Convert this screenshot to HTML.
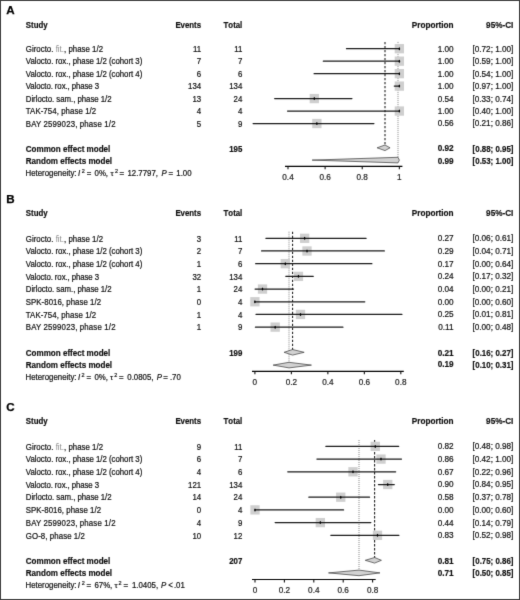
<!DOCTYPE html>
<html><head><meta charset="utf-8"><style>
html,body{margin:0;padding:0;background:#fff;}
#page{position:relative;filter:url(#soft);width:520px;height:600px;overflow:hidden;background:#fff;font-family:"Liberation Sans", sans-serif;}
#page div{position:absolute;white-space:nowrap;-webkit-text-stroke:0.2px currentColor;}
#frame{position:absolute;left:0;top:0;width:518px;height:598px;border:1px solid #3d3d3d;}
sup{font-size:70%;vertical-align:0;position:relative;top:-0.45em;line-height:0;}
svg{position:absolute;left:0;top:0;}
</style></head><body><svg width="0" height="0" style="position:absolute"><filter id="soft" x="0" y="0" width="100%" height="100%" color-interpolation-filters="sRGB"><feColorMatrix type="saturate" values="0"/><feConvolveMatrix order="3" kernelMatrix="0.01000 0.08000 0.01000 0.08000 0.64000 0.08000 0.01000 0.08000 0.01000" divisor="1" edgeMode="duplicate" preserveAlpha="true"/></filter></svg><div id="page">
<svg width="520" height="600" viewBox="0 0 520 600">
<line x1="285.0" y1="166.3" x2="402.4" y2="166.3" stroke="#000" stroke-width="1.2"/>
<line x1="288.00" y1="166.3" x2="288.00" y2="169.30" stroke="#111" stroke-width="1.1"/>
<line x1="325.12" y1="166.3" x2="325.12" y2="169.30" stroke="#111" stroke-width="1.1"/>
<line x1="362.23" y1="166.3" x2="362.23" y2="169.30" stroke="#111" stroke-width="1.1"/>
<line x1="399.35" y1="166.3" x2="399.35" y2="169.30" stroke="#111" stroke-width="1.1"/>
<line x1="398.00" y1="41.9" x2="398.00" y2="160.10" stroke="#888" stroke-width="1" stroke-dasharray="1 1"/>
<line x1="385.00" y1="41.9" x2="385.00" y2="147.80" stroke="#222" stroke-width="1.1" stroke-dasharray="2.4 1.6"/>
<rect x="394.70" y="44.05" width="9.3" height="9.3" fill="#cfcfcf"/>
<line x1="346.47" y1="48.70" x2="399.35" y2="48.70" stroke="#1a1a1a" stroke-width="1.25" stroke-linecap="round"/>
<ellipse cx="399.35" cy="48.70" rx="0.75" ry="1.5" fill="#000"/>
<rect x="394.70" y="56.52" width="9.3" height="9.3" fill="#cfcfcf"/>
<line x1="323.33" y1="61.17" x2="399.35" y2="61.17" stroke="#1a1a1a" stroke-width="1.25" stroke-linecap="round"/>
<ellipse cx="399.35" cy="61.17" rx="0.75" ry="1.5" fill="#000"/>
<rect x="394.70" y="68.99" width="9.3" height="9.3" fill="#cfcfcf"/>
<line x1="314.12" y1="73.64" x2="399.35" y2="73.64" stroke="#1a1a1a" stroke-width="1.25" stroke-linecap="round"/>
<ellipse cx="399.35" cy="73.64" rx="0.75" ry="1.5" fill="#000"/>
<rect x="394.70" y="81.46" width="9.3" height="9.3" fill="#cfcfcf"/>
<line x1="394.31" y1="86.11" x2="399.35" y2="86.11" stroke="#1a1a1a" stroke-width="1.25" stroke-linecap="round"/>
<ellipse cx="399.35" cy="86.11" rx="0.75" ry="1.5" fill="#000"/>
<rect x="309.64" y="93.93" width="9.3" height="9.3" fill="#cfcfcf"/>
<line x1="274.68" y1="98.58" x2="351.93" y2="98.58" stroke="#1a1a1a" stroke-width="1.25" stroke-linecap="round"/>
<ellipse cx="314.29" cy="98.58" rx="0.75" ry="1.5" fill="#000"/>
<rect x="394.70" y="106.40" width="9.3" height="9.3" fill="#cfcfcf"/>
<line x1="287.56" y1="111.05" x2="399.35" y2="111.05" stroke="#1a1a1a" stroke-width="1.25" stroke-linecap="round"/>
<ellipse cx="399.35" cy="111.05" rx="0.75" ry="1.5" fill="#000"/>
<rect x="312.22" y="118.87" width="9.3" height="9.3" fill="#cfcfcf"/>
<line x1="253.11" y1="123.52" x2="373.92" y2="123.52" stroke="#1a1a1a" stroke-width="1.25" stroke-linecap="round"/>
<ellipse cx="316.87" cy="123.52" rx="0.75" ry="1.5" fill="#000"/>
<polygon points="377.08,147.80 385.00,145.00 390.07,147.80 385.00,150.60" fill="#d2d2d2" stroke="#3a3a3a" stroke-width="0.7"/>
<polygon points="312.13,160.10 398.00,157.30 399.35,160.10 398.00,162.90" fill="#d2d2d2" stroke="#3a3a3a" stroke-width="0.7"/>
<line x1="252.0" y1="371.3" x2="403.8" y2="371.3" stroke="#000" stroke-width="1.2"/>
<line x1="254.90" y1="371.3" x2="254.90" y2="374.30" stroke="#111" stroke-width="1.1"/>
<line x1="291.38" y1="371.3" x2="291.38" y2="374.30" stroke="#111" stroke-width="1.1"/>
<line x1="327.86" y1="371.3" x2="327.86" y2="374.30" stroke="#111" stroke-width="1.1"/>
<line x1="364.34" y1="371.3" x2="364.34" y2="374.30" stroke="#111" stroke-width="1.1"/>
<line x1="400.82" y1="371.3" x2="400.82" y2="374.30" stroke="#111" stroke-width="1.1"/>
<line x1="289.00" y1="231.7" x2="289.00" y2="365.10" stroke="#888" stroke-width="1" stroke-dasharray="1 1"/>
<line x1="292.56" y1="231.7" x2="292.56" y2="352.30" stroke="#222" stroke-width="1.1" stroke-dasharray="2.4 1.6"/>
<rect x="300.00" y="233.65" width="9.3" height="9.3" fill="#cfcfcf"/>
<line x1="265.88" y1="238.30" x2="366.12" y2="238.30" stroke="#1a1a1a" stroke-width="1.25" stroke-linecap="round"/>
<ellipse cx="304.65" cy="238.30" rx="0.75" ry="1.5" fill="#000"/>
<rect x="302.36" y="246.34" width="9.3" height="9.3" fill="#cfcfcf"/>
<line x1="261.59" y1="250.99" x2="384.33" y2="250.99" stroke="#1a1a1a" stroke-width="1.25" stroke-linecap="round"/>
<ellipse cx="307.01" cy="250.99" rx="0.75" ry="1.5" fill="#000"/>
<rect x="280.65" y="259.03" width="9.3" height="9.3" fill="#cfcfcf"/>
<line x1="255.67" y1="263.68" x2="371.86" y2="263.68" stroke="#1a1a1a" stroke-width="1.25" stroke-linecap="round"/>
<ellipse cx="285.30" cy="263.68" rx="0.75" ry="1.5" fill="#000"/>
<rect x="293.81" y="271.72" width="9.3" height="9.3" fill="#cfcfcf"/>
<line x1="285.81" y1="276.37" x2="313.28" y2="276.37" stroke="#1a1a1a" stroke-width="1.25" stroke-linecap="round"/>
<ellipse cx="298.46" cy="276.37" rx="0.75" ry="1.5" fill="#000"/>
<rect x="257.85" y="284.41" width="9.3" height="9.3" fill="#cfcfcf"/>
<line x1="255.09" y1="289.06" x2="293.42" y2="289.06" stroke="#1a1a1a" stroke-width="1.25" stroke-linecap="round"/>
<ellipse cx="262.50" cy="289.06" rx="0.75" ry="1.5" fill="#000"/>
<rect x="250.25" y="297.10" width="9.3" height="9.3" fill="#cfcfcf"/>
<line x1="254.90" y1="301.75" x2="364.77" y2="301.75" stroke="#1a1a1a" stroke-width="1.25" stroke-linecap="round"/>
<ellipse cx="254.90" cy="301.75" rx="0.75" ry="1.5" fill="#000"/>
<rect x="295.85" y="309.79" width="9.3" height="9.3" fill="#cfcfcf"/>
<line x1="256.05" y1="314.44" x2="401.89" y2="314.44" stroke="#1a1a1a" stroke-width="1.25" stroke-linecap="round"/>
<ellipse cx="300.50" cy="314.44" rx="0.75" ry="1.5" fill="#000"/>
<rect x="270.52" y="322.48" width="9.3" height="9.3" fill="#cfcfcf"/>
<line x1="255.41" y1="327.13" x2="342.91" y2="327.13" stroke="#1a1a1a" stroke-width="1.25" stroke-linecap="round"/>
<ellipse cx="275.17" cy="327.13" rx="0.75" ry="1.5" fill="#000"/>
<polygon points="284.08,352.30 292.56,349.50 304.15,352.30 292.56,355.10" fill="#d2d2d2" stroke="#3a3a3a" stroke-width="0.7"/>
<polygon points="273.14,365.10 289.00,362.30 311.44,365.10 289.00,367.90" fill="#d2d2d2" stroke="#3a3a3a" stroke-width="0.7"/>
<line x1="252.0" y1="579.5" x2="375.7" y2="579.5" stroke="#000" stroke-width="1.2"/>
<line x1="255.00" y1="579.5" x2="255.00" y2="582.50" stroke="#111" stroke-width="1.1"/>
<line x1="284.40" y1="579.5" x2="284.40" y2="582.50" stroke="#111" stroke-width="1.1"/>
<line x1="313.80" y1="579.5" x2="313.80" y2="582.50" stroke="#111" stroke-width="1.1"/>
<line x1="343.20" y1="579.5" x2="343.20" y2="582.50" stroke="#111" stroke-width="1.1"/>
<line x1="372.60" y1="579.5" x2="372.60" y2="582.50" stroke="#111" stroke-width="1.1"/>
<line x1="359.00" y1="440.0" x2="359.00" y2="572.90" stroke="#888" stroke-width="1" stroke-dasharray="1 1"/>
<line x1="374.60" y1="440.0" x2="374.60" y2="560.30" stroke="#222" stroke-width="1.1" stroke-dasharray="2.4 1.6"/>
<rect x="370.62" y="441.75" width="9.3" height="9.3" fill="#cfcfcf"/>
<line x1="325.89" y1="446.40" x2="398.64" y2="446.40" stroke="#1a1a1a" stroke-width="1.25" stroke-linecap="round"/>
<ellipse cx="375.27" cy="446.40" rx="0.75" ry="1.5" fill="#000"/>
<rect x="376.35" y="454.45" width="9.3" height="9.3" fill="#cfcfcf"/>
<line x1="316.93" y1="459.10" x2="401.47" y2="459.10" stroke="#1a1a1a" stroke-width="1.25" stroke-linecap="round"/>
<ellipse cx="381.00" cy="459.10" rx="0.75" ry="1.5" fill="#000"/>
<rect x="348.35" y="467.15" width="9.3" height="9.3" fill="#cfcfcf"/>
<line x1="287.75" y1="471.80" x2="395.64" y2="471.80" stroke="#1a1a1a" stroke-width="1.25" stroke-linecap="round"/>
<ellipse cx="353.00" cy="471.80" rx="0.75" ry="1.5" fill="#000"/>
<rect x="383.09" y="479.85" width="9.3" height="9.3" fill="#cfcfcf"/>
<line x1="378.45" y1="484.50" x2="394.26" y2="484.50" stroke="#1a1a1a" stroke-width="1.25" stroke-linecap="round"/>
<ellipse cx="387.74" cy="484.50" rx="0.75" ry="1.5" fill="#000"/>
<rect x="336.10" y="492.55" width="9.3" height="9.3" fill="#cfcfcf"/>
<line x1="308.87" y1="497.20" x2="369.50" y2="497.20" stroke="#1a1a1a" stroke-width="1.25" stroke-linecap="round"/>
<ellipse cx="340.75" cy="497.20" rx="0.75" ry="1.5" fill="#000"/>
<rect x="250.35" y="505.25" width="9.3" height="9.3" fill="#cfcfcf"/>
<line x1="255.00" y1="509.90" x2="343.55" y2="509.90" stroke="#1a1a1a" stroke-width="1.25" stroke-linecap="round"/>
<ellipse cx="255.00" cy="509.90" rx="0.75" ry="1.5" fill="#000"/>
<rect x="315.68" y="517.95" width="9.3" height="9.3" fill="#cfcfcf"/>
<line x1="275.14" y1="522.60" x2="370.83" y2="522.60" stroke="#1a1a1a" stroke-width="1.25" stroke-linecap="round"/>
<ellipse cx="320.33" cy="522.60" rx="0.75" ry="1.5" fill="#000"/>
<rect x="372.85" y="530.65" width="9.3" height="9.3" fill="#cfcfcf"/>
<line x1="330.83" y1="535.30" x2="398.93" y2="535.30" stroke="#1a1a1a" stroke-width="1.25" stroke-linecap="round"/>
<ellipse cx="377.50" cy="535.30" rx="0.75" ry="1.5" fill="#000"/>
<polygon points="365.25,560.30 374.60,557.50 381.42,560.30 374.60,563.10" fill="#d2d2d2" stroke="#3a3a3a" stroke-width="0.7"/>
<polygon points="328.50,572.90 359.00,570.10 379.95,572.90 359.00,575.70" fill="#d2d2d2" stroke="#3a3a3a" stroke-width="0.7"/>
</svg>
<div style="top:4.48px;left:6.30px;font-size:11.6px;line-height:11.6px;font-weight:bold;-webkit-text-stroke:0.18px currentColor;color:#000;-webkit-text-stroke:0.25px #000;">A</div>
<div style="top:21.85px;left:25.80px;font-size:7.85px;line-height:7.85px;font-weight:bold;-webkit-text-stroke:0.18px currentColor;color:#111;transform:scaleY(1.1);transform-origin:0 6.65px;">Study</div>
<div style="top:21.85px;right:318.90px;font-size:7.85px;line-height:7.85px;font-weight:bold;-webkit-text-stroke:0.18px currentColor;color:#111;transform:scaleY(1.1);transform-origin:0 6.65px;">Events</div>
<div style="top:21.85px;right:277.70px;font-size:7.85px;line-height:7.85px;font-weight:bold;-webkit-text-stroke:0.18px currentColor;color:#111;font-kerning:none;transform:scaleY(1.1);transform-origin:0 6.65px;">Total</div>
<div style="top:21.56px;right:66.40px;font-size:8.2px;line-height:8.2px;font-weight:bold;-webkit-text-stroke:0.18px currentColor;color:#111;transform:scaleY(1.1);transform-origin:0 6.94px;">Proportion</div>
<div style="top:21.56px;right:6.60px;font-size:8.2px;line-height:8.2px;font-weight:bold;-webkit-text-stroke:0.18px currentColor;color:#111;transform:scaleY(1.1);transform-origin:0 6.94px;">95%-CI</div>
<div style="top:45.95px;left:25.80px;font-size:7.85px;line-height:7.85px;color:#111;letter-spacing:0.020px;transform:scaleY(1.1);transform-origin:0 6.65px;">Girocto. <span style="color:#8a8a8a;-webkit-text-stroke:0">fit.</span>, phase 1/2</div>
<div style="top:45.95px;right:318.90px;font-size:7.85px;line-height:7.85px;color:#111;transform:scaleY(1.1);transform-origin:0 6.65px;">11</div>
<div style="top:45.95px;right:277.70px;font-size:7.85px;line-height:7.85px;color:#111;transform:scaleY(1.1);transform-origin:0 6.65px;">11</div>
<div style="top:45.66px;right:66.40px;font-size:8.2px;line-height:8.2px;color:#111;transform:scaleY(1.1);transform-origin:0 6.94px;">1.00</div>
<div style="top:45.66px;right:6.60px;font-size:8.2px;line-height:8.2px;color:#111;transform:scaleY(1.1);transform-origin:0 6.94px;">[0.72; 1.00]</div>
<div style="top:58.42px;left:25.80px;font-size:7.85px;line-height:7.85px;color:#111;letter-spacing:-0.033px;transform:scaleY(1.1);transform-origin:0 6.65px;">Valocto. rox., phase 1/2 (cohort 3)</div>
<div style="top:58.42px;right:318.90px;font-size:7.85px;line-height:7.85px;color:#111;transform:scaleY(1.1);transform-origin:0 6.65px;">7</div>
<div style="top:58.42px;right:277.70px;font-size:7.85px;line-height:7.85px;color:#111;transform:scaleY(1.1);transform-origin:0 6.65px;">7</div>
<div style="top:58.13px;right:66.40px;font-size:8.2px;line-height:8.2px;color:#111;transform:scaleY(1.1);transform-origin:0 6.94px;">1.00</div>
<div style="top:58.13px;right:6.60px;font-size:8.2px;line-height:8.2px;color:#111;transform:scaleY(1.1);transform-origin:0 6.94px;">[0.59; 1.00]</div>
<div style="top:70.89px;left:25.80px;font-size:7.85px;line-height:7.85px;color:#111;letter-spacing:-0.033px;transform:scaleY(1.1);transform-origin:0 6.65px;">Valocto. rox., phase 1/2 (cohort 4)</div>
<div style="top:70.89px;right:318.90px;font-size:7.85px;line-height:7.85px;color:#111;transform:scaleY(1.1);transform-origin:0 6.65px;">6</div>
<div style="top:70.89px;right:277.70px;font-size:7.85px;line-height:7.85px;color:#111;transform:scaleY(1.1);transform-origin:0 6.65px;">6</div>
<div style="top:70.60px;right:66.40px;font-size:8.2px;line-height:8.2px;color:#111;transform:scaleY(1.1);transform-origin:0 6.94px;">1.00</div>
<div style="top:70.60px;right:6.60px;font-size:8.2px;line-height:8.2px;color:#111;transform:scaleY(1.1);transform-origin:0 6.94px;">[0.54; 1.00]</div>
<div style="top:83.36px;left:25.80px;font-size:7.85px;line-height:7.85px;color:#111;letter-spacing:-0.098px;transform:scaleY(1.1);transform-origin:0 6.65px;">Valocto. rox., phase 3</div>
<div style="top:83.36px;right:318.90px;font-size:7.85px;line-height:7.85px;color:#111;transform:scaleY(1.1);transform-origin:0 6.65px;">134</div>
<div style="top:83.36px;right:277.70px;font-size:7.85px;line-height:7.85px;color:#111;transform:scaleY(1.1);transform-origin:0 6.65px;">134</div>
<div style="top:83.07px;right:66.40px;font-size:8.2px;line-height:8.2px;color:#111;transform:scaleY(1.1);transform-origin:0 6.94px;">1.00</div>
<div style="top:83.07px;right:6.60px;font-size:8.2px;line-height:8.2px;color:#111;transform:scaleY(1.1);transform-origin:0 6.94px;">[0.97; 1.00]</div>
<div style="top:95.83px;left:25.80px;font-size:7.85px;line-height:7.85px;color:#111;letter-spacing:-0.041px;transform:scaleY(1.1);transform-origin:0 6.65px;">Dirlocto. sam., phase 1/2</div>
<div style="top:95.83px;right:318.90px;font-size:7.85px;line-height:7.85px;color:#111;transform:scaleY(1.1);transform-origin:0 6.65px;">13</div>
<div style="top:95.83px;right:277.70px;font-size:7.85px;line-height:7.85px;color:#111;transform:scaleY(1.1);transform-origin:0 6.65px;">24</div>
<div style="top:95.54px;right:66.40px;font-size:8.2px;line-height:8.2px;color:#111;transform:scaleY(1.1);transform-origin:0 6.94px;">0.54</div>
<div style="top:95.54px;right:6.60px;font-size:8.2px;line-height:8.2px;color:#111;transform:scaleY(1.1);transform-origin:0 6.94px;">[0.33; 0.74]</div>
<div style="top:108.30px;left:25.80px;font-size:7.85px;line-height:7.85px;color:#111;letter-spacing:0.071px;transform:scaleY(1.1);transform-origin:0 6.65px;">TAK-754, phase 1/2</div>
<div style="top:108.30px;right:318.90px;font-size:7.85px;line-height:7.85px;color:#111;transform:scaleY(1.1);transform-origin:0 6.65px;">4</div>
<div style="top:108.30px;right:277.70px;font-size:7.85px;line-height:7.85px;color:#111;transform:scaleY(1.1);transform-origin:0 6.65px;">4</div>
<div style="top:108.01px;right:66.40px;font-size:8.2px;line-height:8.2px;color:#111;transform:scaleY(1.1);transform-origin:0 6.94px;">1.00</div>
<div style="top:108.01px;right:6.60px;font-size:8.2px;line-height:8.2px;color:#111;transform:scaleY(1.1);transform-origin:0 6.94px;">[0.40; 1.00]</div>
<div style="top:120.77px;left:25.80px;font-size:7.85px;line-height:7.85px;color:#111;letter-spacing:0.152px;transform:scaleY(1.1);transform-origin:0 6.65px;">BAY 2599023, phase 1/2</div>
<div style="top:120.77px;right:318.90px;font-size:7.85px;line-height:7.85px;color:#111;transform:scaleY(1.1);transform-origin:0 6.65px;">5</div>
<div style="top:120.77px;right:277.70px;font-size:7.85px;line-height:7.85px;color:#111;transform:scaleY(1.1);transform-origin:0 6.65px;">9</div>
<div style="top:120.48px;right:66.40px;font-size:8.2px;line-height:8.2px;color:#111;transform:scaleY(1.1);transform-origin:0 6.94px;">0.56</div>
<div style="top:120.48px;right:6.60px;font-size:8.2px;line-height:8.2px;color:#111;transform:scaleY(1.1);transform-origin:0 6.94px;">[0.21; 0.86]</div>
<div style="top:145.59px;left:25.80px;font-size:8.05px;line-height:8.05px;font-weight:bold;-webkit-text-stroke:0.18px currentColor;color:#111;transform:scaleY(1.1);transform-origin:0 6.81px;">Common effect model</div>
<div style="top:145.75px;right:277.70px;font-size:7.85px;line-height:7.85px;font-weight:bold;-webkit-text-stroke:0.18px currentColor;color:#111;transform:scaleY(1.1);transform-origin:0 6.65px;">195</div>
<div style="top:145.46px;right:66.40px;font-size:8.2px;line-height:8.2px;font-weight:bold;-webkit-text-stroke:0.18px currentColor;color:#111;transform:scaleY(1.1);transform-origin:0 6.94px;">0.92</div>
<div style="top:145.71px;right:6.60px;font-size:7.9px;line-height:7.9px;font-weight:bold;-webkit-text-stroke:0.18px currentColor;color:#111;transform:scaleY(1.1);transform-origin:0 6.69px;">[0.88; 0.95]</div>
<div style="top:157.99px;left:25.80px;font-size:8.05px;line-height:8.05px;font-weight:bold;-webkit-text-stroke:0.18px currentColor;color:#111;transform:scaleY(1.1);transform-origin:0 6.81px;">Random effects model</div>
<div style="top:157.86px;right:66.40px;font-size:8.2px;line-height:8.2px;font-weight:bold;-webkit-text-stroke:0.18px currentColor;color:#111;transform:scaleY(1.1);transform-origin:0 6.94px;">0.99</div>
<div style="top:158.11px;right:6.60px;font-size:7.9px;line-height:7.9px;font-weight:bold;-webkit-text-stroke:0.18px currentColor;color:#111;transform:scaleY(1.1);transform-origin:0 6.69px;">[0.53; 1.00]</div>
<div style="top:169.95px;left:25.50px;font-size:7.85px;line-height:7.85px;color:#111;transform:scaleY(1.1);transform-origin:0 6.65px;">Heterogeneity:</div>
<div style="top:169.95px;left:78.08px;font-size:7.85px;line-height:7.85px;font-style:italic;color:#111;transform:scaleY(1.1);transform-origin:0 6.65px;">I</div>
<div style="top:168.64px;left:81.85px;font-size:5.5px;line-height:5.5px;color:#111;transform:scaleY(1.1);transform-origin:0 4.66px;">2</div>
<div style="top:169.95px;left:86.72px;font-size:7.85px;line-height:7.85px;color:#111;transform:scaleY(1.1);transform-origin:0 6.65px;">=</div>
<div style="top:169.95px;left:94.53px;font-size:7.85px;line-height:7.85px;color:#111;transform:scaleY(1.1);transform-origin:0 6.65px;">0%,</div>
<div style="top:169.95px;left:110.55px;font-size:7.85px;line-height:7.85px;color:#111;font-family:"Liberation Serif",serif;transform:scaleY(1.1);transform-origin:0 6.65px;">τ</div>
<div style="top:168.64px;left:114.95px;font-size:5.5px;line-height:5.5px;color:#111;transform:scaleY(1.1);transform-origin:0 4.66px;">2</div>
<div style="top:169.95px;left:119.42px;font-size:7.85px;line-height:7.85px;color:#111;transform:scaleY(1.1);transform-origin:0 6.65px;">=</div>
<div style="top:169.95px;left:127.42px;font-size:7.85px;line-height:7.85px;color:#111;transform:scaleY(1.1);transform-origin:0 6.65px;">12.7797,</div>
<div style="top:169.95px;left:161.54px;font-size:7.85px;line-height:7.85px;font-style:italic;color:#111;transform:scaleY(1.1);transform-origin:0 6.65px;">P</div>
<div style="top:169.95px;left:168.62px;font-size:7.85px;line-height:7.85px;color:#111;transform:scaleY(1.1);transform-origin:0 6.65px;">=</div>
<div style="top:169.95px;left:176.32px;font-size:7.85px;line-height:7.85px;color:#111;transform:scaleY(1.1);transform-origin:0 6.65px;">1.00</div>
<div style="top:173.66px;left:268.00px;width:40px;text-align:center;font-size:8.2px;line-height:8.2px;color:#222">0.4</div>
<div style="top:173.66px;left:305.12px;width:40px;text-align:center;font-size:8.2px;line-height:8.2px;color:#222">0.6</div>
<div style="top:173.66px;left:342.23px;width:40px;text-align:center;font-size:8.2px;line-height:8.2px;color:#222">0.8</div>
<div style="top:173.66px;left:379.35px;width:40px;text-align:center;font-size:8.2px;line-height:8.2px;color:#222">1</div>
<div style="top:193.08px;left:6.30px;font-size:11.6px;line-height:11.6px;font-weight:bold;-webkit-text-stroke:0.18px currentColor;color:#000;-webkit-text-stroke:0.25px #000;">B</div>
<div style="top:210.05px;left:25.80px;font-size:7.85px;line-height:7.85px;font-weight:bold;-webkit-text-stroke:0.18px currentColor;color:#111;transform:scaleY(1.1);transform-origin:0 6.65px;">Study</div>
<div style="top:210.05px;right:318.90px;font-size:7.85px;line-height:7.85px;font-weight:bold;-webkit-text-stroke:0.18px currentColor;color:#111;transform:scaleY(1.1);transform-origin:0 6.65px;">Events</div>
<div style="top:210.05px;right:277.70px;font-size:7.85px;line-height:7.85px;font-weight:bold;-webkit-text-stroke:0.18px currentColor;color:#111;font-kerning:none;transform:scaleY(1.1);transform-origin:0 6.65px;">Total</div>
<div style="top:209.76px;right:66.40px;font-size:8.2px;line-height:8.2px;font-weight:bold;-webkit-text-stroke:0.18px currentColor;color:#111;transform:scaleY(1.1);transform-origin:0 6.94px;">Proportion</div>
<div style="top:209.76px;right:6.60px;font-size:8.2px;line-height:8.2px;font-weight:bold;-webkit-text-stroke:0.18px currentColor;color:#111;transform:scaleY(1.1);transform-origin:0 6.94px;">95%-CI</div>
<div style="top:235.55px;left:25.80px;font-size:7.85px;line-height:7.85px;color:#111;letter-spacing:0.020px;transform:scaleY(1.1);transform-origin:0 6.65px;">Girocto. <span style="color:#8a8a8a;-webkit-text-stroke:0">fit.</span>, phase 1/2</div>
<div style="top:235.55px;right:318.90px;font-size:7.85px;line-height:7.85px;color:#111;transform:scaleY(1.1);transform-origin:0 6.65px;">3</div>
<div style="top:235.55px;right:277.70px;font-size:7.85px;line-height:7.85px;color:#111;transform:scaleY(1.1);transform-origin:0 6.65px;">11</div>
<div style="top:235.26px;right:66.40px;font-size:8.2px;line-height:8.2px;color:#111;transform:scaleY(1.1);transform-origin:0 6.94px;">0.27</div>
<div style="top:235.26px;right:6.60px;font-size:8.2px;line-height:8.2px;color:#111;transform:scaleY(1.1);transform-origin:0 6.94px;">[0.06; 0.61]</div>
<div style="top:248.24px;left:25.80px;font-size:7.85px;line-height:7.85px;color:#111;letter-spacing:-0.033px;transform:scaleY(1.1);transform-origin:0 6.65px;">Valocto. rox., phase 1/2 (cohort 3)</div>
<div style="top:248.24px;right:318.90px;font-size:7.85px;line-height:7.85px;color:#111;transform:scaleY(1.1);transform-origin:0 6.65px;">2</div>
<div style="top:248.24px;right:277.70px;font-size:7.85px;line-height:7.85px;color:#111;transform:scaleY(1.1);transform-origin:0 6.65px;">7</div>
<div style="top:247.95px;right:66.40px;font-size:8.2px;line-height:8.2px;color:#111;transform:scaleY(1.1);transform-origin:0 6.94px;">0.29</div>
<div style="top:247.95px;right:6.60px;font-size:8.2px;line-height:8.2px;color:#111;transform:scaleY(1.1);transform-origin:0 6.94px;">[0.04; 0.71]</div>
<div style="top:260.93px;left:25.80px;font-size:7.85px;line-height:7.85px;color:#111;letter-spacing:-0.033px;transform:scaleY(1.1);transform-origin:0 6.65px;">Valocto. rox., phase 1/2 (cohort 4)</div>
<div style="top:260.93px;right:318.90px;font-size:7.85px;line-height:7.85px;color:#111;transform:scaleY(1.1);transform-origin:0 6.65px;">1</div>
<div style="top:260.93px;right:277.70px;font-size:7.85px;line-height:7.85px;color:#111;transform:scaleY(1.1);transform-origin:0 6.65px;">6</div>
<div style="top:260.64px;right:66.40px;font-size:8.2px;line-height:8.2px;color:#111;transform:scaleY(1.1);transform-origin:0 6.94px;">0.17</div>
<div style="top:260.64px;right:6.60px;font-size:8.2px;line-height:8.2px;color:#111;transform:scaleY(1.1);transform-origin:0 6.94px;">[0.00; 0.64]</div>
<div style="top:273.62px;left:25.80px;font-size:7.85px;line-height:7.85px;color:#111;letter-spacing:-0.098px;transform:scaleY(1.1);transform-origin:0 6.65px;">Valocto. rox., phase 3</div>
<div style="top:273.62px;right:318.90px;font-size:7.85px;line-height:7.85px;color:#111;transform:scaleY(1.1);transform-origin:0 6.65px;">32</div>
<div style="top:273.62px;right:277.70px;font-size:7.85px;line-height:7.85px;color:#111;transform:scaleY(1.1);transform-origin:0 6.65px;">134</div>
<div style="top:273.33px;right:66.40px;font-size:8.2px;line-height:8.2px;color:#111;transform:scaleY(1.1);transform-origin:0 6.94px;">0.24</div>
<div style="top:273.33px;right:6.60px;font-size:8.2px;line-height:8.2px;color:#111;transform:scaleY(1.1);transform-origin:0 6.94px;">[0.17; 0.32]</div>
<div style="top:286.31px;left:25.80px;font-size:7.85px;line-height:7.85px;color:#111;letter-spacing:-0.041px;transform:scaleY(1.1);transform-origin:0 6.65px;">Dirlocto. sam., phase 1/2</div>
<div style="top:286.31px;right:318.90px;font-size:7.85px;line-height:7.85px;color:#111;transform:scaleY(1.1);transform-origin:0 6.65px;">1</div>
<div style="top:286.31px;right:277.70px;font-size:7.85px;line-height:7.85px;color:#111;transform:scaleY(1.1);transform-origin:0 6.65px;">24</div>
<div style="top:286.02px;right:66.40px;font-size:8.2px;line-height:8.2px;color:#111;transform:scaleY(1.1);transform-origin:0 6.94px;">0.04</div>
<div style="top:286.02px;right:6.60px;font-size:8.2px;line-height:8.2px;color:#111;transform:scaleY(1.1);transform-origin:0 6.94px;">[0.00; 0.21]</div>
<div style="top:299.00px;left:25.80px;font-size:7.85px;line-height:7.85px;color:#111;letter-spacing:0.037px;transform:scaleY(1.1);transform-origin:0 6.65px;">SPK-8016, phase 1/2</div>
<div style="top:299.00px;right:318.90px;font-size:7.85px;line-height:7.85px;color:#111;transform:scaleY(1.1);transform-origin:0 6.65px;">0</div>
<div style="top:299.00px;right:277.70px;font-size:7.85px;line-height:7.85px;color:#111;transform:scaleY(1.1);transform-origin:0 6.65px;">4</div>
<div style="top:298.71px;right:66.40px;font-size:8.2px;line-height:8.2px;color:#111;transform:scaleY(1.1);transform-origin:0 6.94px;">0.00</div>
<div style="top:298.71px;right:6.60px;font-size:8.2px;line-height:8.2px;color:#111;transform:scaleY(1.1);transform-origin:0 6.94px;">[0.00; 0.60]</div>
<div style="top:311.69px;left:25.80px;font-size:7.85px;line-height:7.85px;color:#111;letter-spacing:0.071px;transform:scaleY(1.1);transform-origin:0 6.65px;">TAK-754, phase 1/2</div>
<div style="top:311.69px;right:318.90px;font-size:7.85px;line-height:7.85px;color:#111;transform:scaleY(1.1);transform-origin:0 6.65px;">1</div>
<div style="top:311.69px;right:277.70px;font-size:7.85px;line-height:7.85px;color:#111;transform:scaleY(1.1);transform-origin:0 6.65px;">4</div>
<div style="top:311.40px;right:66.40px;font-size:8.2px;line-height:8.2px;color:#111;transform:scaleY(1.1);transform-origin:0 6.94px;">0.25</div>
<div style="top:311.40px;right:6.60px;font-size:8.2px;line-height:8.2px;color:#111;transform:scaleY(1.1);transform-origin:0 6.94px;">[0.01; 0.81]</div>
<div style="top:324.38px;left:25.80px;font-size:7.85px;line-height:7.85px;color:#111;letter-spacing:0.152px;transform:scaleY(1.1);transform-origin:0 6.65px;">BAY 2599023, phase 1/2</div>
<div style="top:324.38px;right:318.90px;font-size:7.85px;line-height:7.85px;color:#111;transform:scaleY(1.1);transform-origin:0 6.65px;">1</div>
<div style="top:324.38px;right:277.70px;font-size:7.85px;line-height:7.85px;color:#111;transform:scaleY(1.1);transform-origin:0 6.65px;">9</div>
<div style="top:324.09px;right:66.40px;font-size:8.2px;line-height:8.2px;color:#111;transform:scaleY(1.1);transform-origin:0 6.94px;">0.11</div>
<div style="top:324.09px;right:6.60px;font-size:8.2px;line-height:8.2px;color:#111;transform:scaleY(1.1);transform-origin:0 6.94px;">[0.00; 0.48]</div>
<div style="top:350.19px;left:25.80px;font-size:8.05px;line-height:8.05px;font-weight:bold;-webkit-text-stroke:0.18px currentColor;color:#111;transform:scaleY(1.1);transform-origin:0 6.81px;">Common effect model</div>
<div style="top:350.35px;right:277.70px;font-size:7.85px;line-height:7.85px;font-weight:bold;-webkit-text-stroke:0.18px currentColor;color:#111;transform:scaleY(1.1);transform-origin:0 6.65px;">199</div>
<div style="top:350.06px;right:66.40px;font-size:8.2px;line-height:8.2px;font-weight:bold;-webkit-text-stroke:0.18px currentColor;color:#111;transform:scaleY(1.1);transform-origin:0 6.94px;">0.21</div>
<div style="top:350.31px;right:6.60px;font-size:7.9px;line-height:7.9px;font-weight:bold;-webkit-text-stroke:0.18px currentColor;color:#111;transform:scaleY(1.1);transform-origin:0 6.69px;">[0.16; 0.27]</div>
<div style="top:361.59px;left:25.80px;font-size:8.05px;line-height:8.05px;font-weight:bold;-webkit-text-stroke:0.18px currentColor;color:#111;transform:scaleY(1.1);transform-origin:0 6.81px;">Random effects model</div>
<div style="top:361.46px;right:66.40px;font-size:8.2px;line-height:8.2px;font-weight:bold;-webkit-text-stroke:0.18px currentColor;color:#111;transform:scaleY(1.1);transform-origin:0 6.94px;">0.19</div>
<div style="top:361.71px;right:6.60px;font-size:7.9px;line-height:7.9px;font-weight:bold;-webkit-text-stroke:0.18px currentColor;color:#111;transform:scaleY(1.1);transform-origin:0 6.69px;">[0.10; 0.31]</div>
<div style="top:374.05px;left:25.50px;font-size:7.85px;line-height:7.85px;color:#111;transform:scaleY(1.1);transform-origin:0 6.65px;">Heterogeneity:</div>
<div style="top:374.05px;left:77.88px;font-size:7.85px;line-height:7.85px;font-style:italic;color:#111;transform:scaleY(1.1);transform-origin:0 6.65px;">I</div>
<div style="top:372.74px;left:81.55px;font-size:5.5px;line-height:5.5px;color:#111;transform:scaleY(1.1);transform-origin:0 4.66px;">2</div>
<div style="top:374.05px;left:86.62px;font-size:7.85px;line-height:7.85px;color:#111;transform:scaleY(1.1);transform-origin:0 6.65px;">=</div>
<div style="top:374.05px;left:94.43px;font-size:7.85px;line-height:7.85px;color:#111;transform:scaleY(1.1);transform-origin:0 6.65px;">0%,</div>
<div style="top:374.05px;left:110.05px;font-size:7.85px;line-height:7.85px;color:#111;font-family:"Liberation Serif",serif;transform:scaleY(1.1);transform-origin:0 6.65px;">τ</div>
<div style="top:372.74px;left:114.25px;font-size:5.5px;line-height:5.5px;color:#111;transform:scaleY(1.1);transform-origin:0 4.66px;">2</div>
<div style="top:374.05px;left:119.12px;font-size:7.85px;line-height:7.85px;color:#111;transform:scaleY(1.1);transform-origin:0 6.65px;">=</div>
<div style="top:374.05px;left:127.31px;font-size:7.85px;line-height:7.85px;color:#111;transform:scaleY(1.1);transform-origin:0 6.65px;">0.0805,</div>
<div style="top:374.05px;left:156.74px;font-size:7.85px;line-height:7.85px;font-style:italic;color:#111;transform:scaleY(1.1);transform-origin:0 6.65px;">P</div>
<div style="top:374.05px;left:163.32px;font-size:7.85px;line-height:7.85px;color:#111;transform:scaleY(1.1);transform-origin:0 6.65px;">=</div>
<div style="top:374.05px;left:169.94px;font-size:7.85px;line-height:7.85px;color:#111;transform:scaleY(1.1);transform-origin:0 6.65px;">.70</div>
<div style="top:378.76px;left:234.90px;width:40px;text-align:center;font-size:8.2px;line-height:8.2px;color:#222">0</div>
<div style="top:378.76px;left:271.38px;width:40px;text-align:center;font-size:8.2px;line-height:8.2px;color:#222">0.2</div>
<div style="top:378.76px;left:307.86px;width:40px;text-align:center;font-size:8.2px;line-height:8.2px;color:#222">0.4</div>
<div style="top:378.76px;left:344.34px;width:40px;text-align:center;font-size:8.2px;line-height:8.2px;color:#222">0.6</div>
<div style="top:378.76px;left:380.82px;width:40px;text-align:center;font-size:8.2px;line-height:8.2px;color:#222">0.8</div>
<div style="top:401.38px;left:6.30px;font-size:11.6px;line-height:11.6px;font-weight:bold;-webkit-text-stroke:0.18px currentColor;color:#000;-webkit-text-stroke:0.25px #000;">C</div>
<div style="top:418.05px;left:25.80px;font-size:7.85px;line-height:7.85px;font-weight:bold;-webkit-text-stroke:0.18px currentColor;color:#111;transform:scaleY(1.1);transform-origin:0 6.65px;">Study</div>
<div style="top:418.05px;right:318.90px;font-size:7.85px;line-height:7.85px;font-weight:bold;-webkit-text-stroke:0.18px currentColor;color:#111;transform:scaleY(1.1);transform-origin:0 6.65px;">Events</div>
<div style="top:418.05px;right:277.70px;font-size:7.85px;line-height:7.85px;font-weight:bold;-webkit-text-stroke:0.18px currentColor;color:#111;font-kerning:none;transform:scaleY(1.1);transform-origin:0 6.65px;">Total</div>
<div style="top:417.76px;right:66.40px;font-size:8.2px;line-height:8.2px;font-weight:bold;-webkit-text-stroke:0.18px currentColor;color:#111;transform:scaleY(1.1);transform-origin:0 6.94px;">Proportion</div>
<div style="top:417.76px;right:6.60px;font-size:8.2px;line-height:8.2px;font-weight:bold;-webkit-text-stroke:0.18px currentColor;color:#111;transform:scaleY(1.1);transform-origin:0 6.94px;">95%-CI</div>
<div style="top:443.65px;left:25.80px;font-size:7.85px;line-height:7.85px;color:#111;letter-spacing:0.020px;transform:scaleY(1.1);transform-origin:0 6.65px;">Girocto. <span style="color:#8a8a8a;-webkit-text-stroke:0">fit.</span>, phase 1/2</div>
<div style="top:443.65px;right:318.90px;font-size:7.85px;line-height:7.85px;color:#111;transform:scaleY(1.1);transform-origin:0 6.65px;">9</div>
<div style="top:443.65px;right:277.70px;font-size:7.85px;line-height:7.85px;color:#111;transform:scaleY(1.1);transform-origin:0 6.65px;">11</div>
<div style="top:443.36px;right:66.40px;font-size:8.2px;line-height:8.2px;color:#111;transform:scaleY(1.1);transform-origin:0 6.94px;">0.82</div>
<div style="top:443.36px;right:6.60px;font-size:8.2px;line-height:8.2px;color:#111;transform:scaleY(1.1);transform-origin:0 6.94px;">[0.48; 0.98]</div>
<div style="top:456.35px;left:25.80px;font-size:7.85px;line-height:7.85px;color:#111;letter-spacing:-0.033px;transform:scaleY(1.1);transform-origin:0 6.65px;">Valocto. rox., phase 1/2 (cohort 3)</div>
<div style="top:456.35px;right:318.90px;font-size:7.85px;line-height:7.85px;color:#111;transform:scaleY(1.1);transform-origin:0 6.65px;">6</div>
<div style="top:456.35px;right:277.70px;font-size:7.85px;line-height:7.85px;color:#111;transform:scaleY(1.1);transform-origin:0 6.65px;">7</div>
<div style="top:456.06px;right:66.40px;font-size:8.2px;line-height:8.2px;color:#111;transform:scaleY(1.1);transform-origin:0 6.94px;">0.86</div>
<div style="top:456.06px;right:6.60px;font-size:8.2px;line-height:8.2px;color:#111;transform:scaleY(1.1);transform-origin:0 6.94px;">[0.42; 1.00]</div>
<div style="top:469.05px;left:25.80px;font-size:7.85px;line-height:7.85px;color:#111;letter-spacing:-0.033px;transform:scaleY(1.1);transform-origin:0 6.65px;">Valocto. rox., phase 1/2 (cohort 4)</div>
<div style="top:469.05px;right:318.90px;font-size:7.85px;line-height:7.85px;color:#111;transform:scaleY(1.1);transform-origin:0 6.65px;">4</div>
<div style="top:469.05px;right:277.70px;font-size:7.85px;line-height:7.85px;color:#111;transform:scaleY(1.1);transform-origin:0 6.65px;">6</div>
<div style="top:468.76px;right:66.40px;font-size:8.2px;line-height:8.2px;color:#111;transform:scaleY(1.1);transform-origin:0 6.94px;">0.67</div>
<div style="top:468.76px;right:6.60px;font-size:8.2px;line-height:8.2px;color:#111;transform:scaleY(1.1);transform-origin:0 6.94px;">[0.22; 0.96]</div>
<div style="top:481.75px;left:25.80px;font-size:7.85px;line-height:7.85px;color:#111;letter-spacing:-0.098px;transform:scaleY(1.1);transform-origin:0 6.65px;">Valocto. rox., phase 3</div>
<div style="top:481.75px;right:318.90px;font-size:7.85px;line-height:7.85px;color:#111;transform:scaleY(1.1);transform-origin:0 6.65px;">121</div>
<div style="top:481.75px;right:277.70px;font-size:7.85px;line-height:7.85px;color:#111;transform:scaleY(1.1);transform-origin:0 6.65px;">134</div>
<div style="top:481.46px;right:66.40px;font-size:8.2px;line-height:8.2px;color:#111;transform:scaleY(1.1);transform-origin:0 6.94px;">0.90</div>
<div style="top:481.46px;right:6.60px;font-size:8.2px;line-height:8.2px;color:#111;transform:scaleY(1.1);transform-origin:0 6.94px;">[0.84; 0.95]</div>
<div style="top:494.45px;left:25.80px;font-size:7.85px;line-height:7.85px;color:#111;letter-spacing:-0.041px;transform:scaleY(1.1);transform-origin:0 6.65px;">Dirlocto. sam., phase 1/2</div>
<div style="top:494.45px;right:318.90px;font-size:7.85px;line-height:7.85px;color:#111;transform:scaleY(1.1);transform-origin:0 6.65px;">14</div>
<div style="top:494.45px;right:277.70px;font-size:7.85px;line-height:7.85px;color:#111;transform:scaleY(1.1);transform-origin:0 6.65px;">24</div>
<div style="top:494.16px;right:66.40px;font-size:8.2px;line-height:8.2px;color:#111;transform:scaleY(1.1);transform-origin:0 6.94px;">0.58</div>
<div style="top:494.16px;right:6.60px;font-size:8.2px;line-height:8.2px;color:#111;transform:scaleY(1.1);transform-origin:0 6.94px;">[0.37; 0.78]</div>
<div style="top:507.15px;left:25.80px;font-size:7.85px;line-height:7.85px;color:#111;letter-spacing:0.037px;transform:scaleY(1.1);transform-origin:0 6.65px;">SPK-8016, phase 1/2</div>
<div style="top:507.15px;right:318.90px;font-size:7.85px;line-height:7.85px;color:#111;transform:scaleY(1.1);transform-origin:0 6.65px;">0</div>
<div style="top:507.15px;right:277.70px;font-size:7.85px;line-height:7.85px;color:#111;transform:scaleY(1.1);transform-origin:0 6.65px;">4</div>
<div style="top:506.86px;right:66.40px;font-size:8.2px;line-height:8.2px;color:#111;transform:scaleY(1.1);transform-origin:0 6.94px;">0.00</div>
<div style="top:506.86px;right:6.60px;font-size:8.2px;line-height:8.2px;color:#111;transform:scaleY(1.1);transform-origin:0 6.94px;">[0.00; 0.60]</div>
<div style="top:519.85px;left:25.80px;font-size:7.85px;line-height:7.85px;color:#111;letter-spacing:0.152px;transform:scaleY(1.1);transform-origin:0 6.65px;">BAY 2599023, phase 1/2</div>
<div style="top:519.85px;right:318.90px;font-size:7.85px;line-height:7.85px;color:#111;transform:scaleY(1.1);transform-origin:0 6.65px;">4</div>
<div style="top:519.85px;right:277.70px;font-size:7.85px;line-height:7.85px;color:#111;transform:scaleY(1.1);transform-origin:0 6.65px;">9</div>
<div style="top:519.56px;right:66.40px;font-size:8.2px;line-height:8.2px;color:#111;transform:scaleY(1.1);transform-origin:0 6.94px;">0.44</div>
<div style="top:519.56px;right:6.60px;font-size:8.2px;line-height:8.2px;color:#111;transform:scaleY(1.1);transform-origin:0 6.94px;">[0.14; 0.79]</div>
<div style="top:532.55px;left:25.80px;font-size:7.85px;line-height:7.85px;color:#111;letter-spacing:0.079px;transform:scaleY(1.1);transform-origin:0 6.65px;">GO-8, phase 1/2</div>
<div style="top:532.55px;right:318.90px;font-size:7.85px;line-height:7.85px;color:#111;transform:scaleY(1.1);transform-origin:0 6.65px;">10</div>
<div style="top:532.55px;right:277.70px;font-size:7.85px;line-height:7.85px;color:#111;transform:scaleY(1.1);transform-origin:0 6.65px;">12</div>
<div style="top:532.26px;right:66.40px;font-size:8.2px;line-height:8.2px;color:#111;transform:scaleY(1.1);transform-origin:0 6.94px;">0.83</div>
<div style="top:532.26px;right:6.60px;font-size:8.2px;line-height:8.2px;color:#111;transform:scaleY(1.1);transform-origin:0 6.94px;">[0.52; 0.98]</div>
<div style="top:557.69px;left:25.80px;font-size:8.05px;line-height:8.05px;font-weight:bold;-webkit-text-stroke:0.18px currentColor;color:#111;transform:scaleY(1.1);transform-origin:0 6.81px;">Common effect model</div>
<div style="top:557.85px;right:277.70px;font-size:7.85px;line-height:7.85px;font-weight:bold;-webkit-text-stroke:0.18px currentColor;color:#111;transform:scaleY(1.1);transform-origin:0 6.65px;">207</div>
<div style="top:557.56px;right:66.40px;font-size:8.2px;line-height:8.2px;font-weight:bold;-webkit-text-stroke:0.18px currentColor;color:#111;transform:scaleY(1.1);transform-origin:0 6.94px;">0.81</div>
<div style="top:557.81px;right:6.60px;font-size:7.9px;line-height:7.9px;font-weight:bold;-webkit-text-stroke:0.18px currentColor;color:#111;transform:scaleY(1.1);transform-origin:0 6.69px;">[0.75; 0.86]</div>
<div style="top:569.69px;left:25.80px;font-size:8.05px;line-height:8.05px;font-weight:bold;-webkit-text-stroke:0.18px currentColor;color:#111;transform:scaleY(1.1);transform-origin:0 6.81px;">Random effects model</div>
<div style="top:569.56px;right:66.40px;font-size:8.2px;line-height:8.2px;font-weight:bold;-webkit-text-stroke:0.18px currentColor;color:#111;transform:scaleY(1.1);transform-origin:0 6.94px;">0.71</div>
<div style="top:569.81px;right:6.60px;font-size:7.9px;line-height:7.9px;font-weight:bold;-webkit-text-stroke:0.18px currentColor;color:#111;transform:scaleY(1.1);transform-origin:0 6.69px;">[0.50; 0.85]</div>
<div style="top:582.05px;left:25.50px;font-size:7.85px;line-height:7.85px;color:#111;transform:scaleY(1.1);transform-origin:0 6.65px;">Heterogeneity:</div>
<div style="top:582.05px;left:77.78px;font-size:7.85px;line-height:7.85px;font-style:italic;color:#111;transform:scaleY(1.1);transform-origin:0 6.65px;">I</div>
<div style="top:580.74px;left:81.65px;font-size:5.5px;line-height:5.5px;color:#111;transform:scaleY(1.1);transform-origin:0 4.66px;">2</div>
<div style="top:582.05px;left:86.62px;font-size:7.85px;line-height:7.85px;color:#111;transform:scaleY(1.1);transform-origin:0 6.65px;">=</div>
<div style="top:582.05px;left:94.41px;font-size:7.85px;line-height:7.85px;color:#111;transform:scaleY(1.1);transform-origin:0 6.65px;">67%,</div>
<div style="top:582.05px;left:114.45px;font-size:7.85px;line-height:7.85px;color:#111;font-family:"Liberation Serif",serif;transform:scaleY(1.1);transform-origin:0 6.65px;">τ</div>
<div style="top:580.74px;left:118.55px;font-size:5.5px;line-height:5.5px;color:#111;transform:scaleY(1.1);transform-origin:0 4.66px;">2</div>
<div style="top:582.05px;left:123.42px;font-size:7.85px;line-height:7.85px;color:#111;transform:scaleY(1.1);transform-origin:0 6.65px;">=</div>
<div style="top:582.05px;left:131.92px;font-size:7.85px;line-height:7.85px;color:#111;transform:scaleY(1.1);transform-origin:0 6.65px;">1.0405,</div>
<div style="top:582.05px;left:161.04px;font-size:7.85px;line-height:7.85px;font-style:italic;color:#111;transform:scaleY(1.1);transform-origin:0 6.65px;">P</div>
<div style="top:582.05px;left:168.32px;font-size:7.85px;line-height:7.85px;color:#111;transform:scaleY(1.1);transform-origin:0 6.65px;"><</div>
<div style="top:582.05px;left:173.92px;font-size:7.85px;line-height:7.85px;color:#111;transform:scaleY(1.1);transform-origin:0 6.65px;">.01</div>
<div style="top:587.36px;left:235.00px;width:40px;text-align:center;font-size:8.2px;line-height:8.2px;color:#222">0</div>
<div style="top:587.36px;left:264.40px;width:40px;text-align:center;font-size:8.2px;line-height:8.2px;color:#222">0.2</div>
<div style="top:587.36px;left:293.80px;width:40px;text-align:center;font-size:8.2px;line-height:8.2px;color:#222">0.4</div>
<div style="top:587.36px;left:323.20px;width:40px;text-align:center;font-size:8.2px;line-height:8.2px;color:#222">0.6</div>
<div style="top:587.36px;left:352.60px;width:40px;text-align:center;font-size:8.2px;line-height:8.2px;color:#222">0.8</div>
<div id="frame"></div>
</div></body></html>
